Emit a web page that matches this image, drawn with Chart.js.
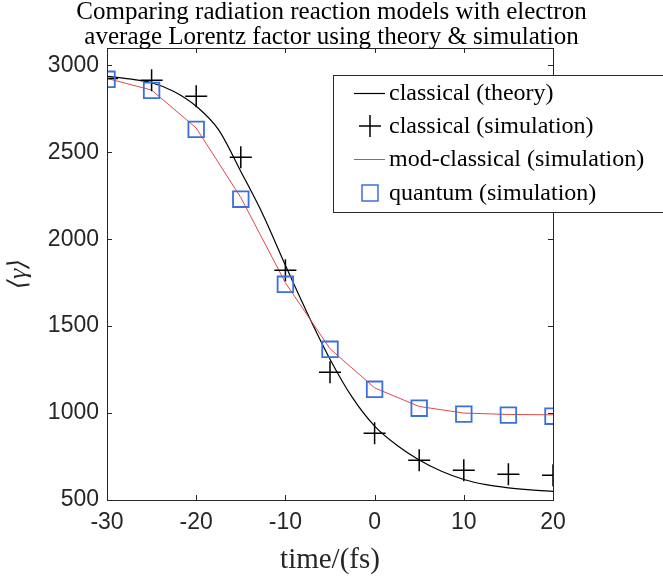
<!DOCTYPE html>
<html>
<head>
<meta charset="utf-8">
<script src="https://cdn.jsdelivr.net/npm/chart.js@4"></script>
<style>
  html, body { margin: 0; padding: 0; background: #fff; }
  #wrap { width: 663px; height: 580px; }
</style>
</head>
<body>
<div id="wrap"><canvas id="chart" width="663" height="580"></canvas></div>
<script>
// simulation output times (fs)
var times = [-30, -25, -20, -15, -10, -5, 0, 5, 10, 15, 20];
var classicalSim = [2925, 2915, 2822, 2471, 1821, 1235, 884, 729, 671, 648, 642];
var modClassicalSim = [2925, 2858, 2640, 2240, 1750, 1370, 1145, 1038, 1000, 992, 990];
var quantumSim = [2920, 2856, 2632, 2230, 1741, 1367, 1137, 1028, 994, 988, 982];

var theoryTimes = [-30, -27.5, -25, -22.5, -20, -17.5, -15, -12.5, -10, -7.5, -5, -2.5, 0, 2.5, 5, 7.5, 10, 12.5, 15, 17.5, 20];
var classicalTheory = [2937, 2922, 2900, 2850, 2765, 2630, 2390, 2140, 1850, 1570, 1310, 1090, 925, 815, 730, 665, 618, 588, 570, 558, 550];

var yTicks = [500, 1000, 1500, 2000, 2500, 3000];
var titleLines = ['Comparing radiation reaction models with electron',
                  'average Lorentz factor using theory & simulation'];

function pts(xs, ys) {
    return xs.map(function(x, i){ return {x: x, y: ys[i]}; });
}

var serif = "'Liberation Serif', 'DejaVu Serif', serif";
var sans = "'Liberation Sans', Arial, sans-serif";

// MATLAB style box + inward ticks
var boxPlugin = {
    id: 'box',
    afterDatasetsDraw: function(chart) {
        var c = chart.ctx, a = chart.chartArea;
        var xs = chart.scales.x, ys = chart.scales.y;
        c.save();
        c.strokeStyle = '#262626';
        c.lineWidth = 1;
        c.strokeRect(a.left + 0.5, a.top + 0.5, a.right - a.left, a.bottom - a.top);
        var len = 5;
        xs.ticks.forEach(function(t){
            var px = Math.round(xs.getPixelForValue(t.value)) + 0.5;
            c.beginPath();
            c.moveTo(px, a.bottom); c.lineTo(px, a.bottom - len);
            c.moveTo(px, a.top); c.lineTo(px, a.top + len);
            c.stroke();
        });
        ys.ticks.forEach(function(t){
            var py = Math.round(ys.getPixelForValue(t.value)) + 0.5;
            c.beginPath();
            c.moveTo(a.left, py); c.lineTo(a.left + len, py);
            c.moveTo(a.right, py); c.lineTo(a.right - len, py);
            c.stroke();
        });
        c.restore();
    }
};

// title centred on the whole figure
var titlePlugin = {
    id: 'figTitle',
    afterDraw: function(chart) {
        var c = chart.ctx;
        c.save();
        c.font = '25px ' + serif;
        c.fillStyle = '#000';
        c.textAlign = 'center';
        c.textBaseline = 'middle';
        titleLines.forEach(function(t, i){
            c.fillText(t, chart.width / 2, 12 + i * 25);
        });
        c.restore();
    }
};

// legend box in the upper right, running past the canvas edge
var legendPlugin = {
    id: 'boxLegend',
    afterDraw: function(chart) {
        var c = chart.ctx;
        var x0 = 333, y0 = 75, w = 340, h = 137;
        c.save();
        c.fillStyle = '#fff';
        c.fillRect(x0, y0, w, h);
        c.strokeStyle = '#262626';
        c.lineWidth = 1;
        c.strokeRect(x0 + 0.5, y0 + 0.5, w, h);
        c.font = '24px ' + serif;
        c.textBaseline = 'middle';
        c.fillStyle = '#000';
        var rows = [93, 126, 159, 193];
        chart.data.datasets.forEach(function(ds, i){
            var y = rows[i];
            c.strokeStyle = ds.borderColor;
            c.lineWidth = ds.borderWidth || 1;
            c.beginPath();
            if (ds.legendType === 'line') {
                c.moveTo(354, y + 0.5); c.lineTo(385, y + 0.5);
            } else if (ds.legendType === 'cross') {
                c.lineWidth = 1.5;
                c.moveTo(359, y); c.lineTo(381, y);
                c.moveTo(370, y - 11); c.lineTo(370, y + 11);
            } else {
                c.lineWidth = 1.5;
                c.rect(362, y - 8, 16, 16);
            }
            c.stroke();
            c.fillText(ds.label, 389, y + 1);
        });
        c.restore();
    }
};

var data = {
    datasets: [
        {
            label: 'classical (theory)',
            legendType: 'line',
            data: pts(theoryTimes, classicalTheory),
            showLine: true,
            borderColor: '#000',
            borderWidth: 1.2,
            pointRadius: 0,
            cubicInterpolationMode: 'monotone',
            order: 3
        },
        {
            label: 'classical (simulation)',
            legendType: 'cross',
            data: pts(times, classicalSim),
            showLine: false,
            borderColor: '#000',
            borderWidth: 1.5,
            pointStyle: 'cross',
            pointRadius: 11,
            pointBorderWidth: 1.5,
            order: 1
        },
        {
            label: 'mod-classical (simulation)',
            legendType: 'line',
            data: pts(times, modClassicalSim),
            showLine: true,
            borderColor: '#e0474c',
            borderWidth: 1,
            pointRadius: 0,
            tension: 0,
            order: 2
        },
        {
            label: 'quantum (simulation)',
            legendType: 'square',
            data: pts(times, quantumSim),
            showLine: false,
            borderColor: '#3a6fe0',
            backgroundColor: 'rgba(0,0,0,0)',
            pointStyle: 'rect',
            pointRadius: 11,
            pointBorderWidth: 1.8,
            order: 0
        }
    ]
};

var options = {
    responsive: false,
    animation: false,
    events: [],
    layout: { padding: { left: 0, right: 110, top: 48, bottom: 0 } },
    plugins: {
        legend: { display: false },
        tooltip: { enabled: false },
        title: { display: false }
    },
    scales: {
        x: {
            type: 'linear',
            min: -30, max: 20,
            ticks: { stepSize: 10, font: { family: sans, size: 23 }, color: '#262626', padding: 9,
                     callback: function(v){ return String(v); } },
            grid: { display: false, drawTicks: false },
            border: { display: false },
            title: { display: true, text: 'time/(fs)', font: { family: serif, size: 29 }, color: '#262626', padding: { top: 6, bottom: 2 } },
            afterFit: function(s){ s.height = 80; }
        },
        y: {
            type: 'linear',
            min: 500, max: 3100,
            afterBuildTicks: function(s){ s.ticks = yTicks.map(function(v){ return {value: v}; }); },
            ticks: { font: { family: sans, size: 23 }, color: '#262626', padding: 8,
                     callback: function(v){ return String(v); } },
            grid: { display: false, drawTicks: false },
            border: { display: false },
            title: { display: true, text: '\u27E8\u03B3\u27E9', font: { family: serif, size: 26, style: 'italic' }, color: '#262626', padding: { top: 4, bottom: 0 } },
            afterFit: function(s){ s.width = 107; }
        }
    }
};

new Chart(document.getElementById('chart'), {
    type: 'scatter',
    data: data,
    options: options,
    plugins: [boxPlugin, titlePlugin, legendPlugin]
});
</script>
</body>
</html>
